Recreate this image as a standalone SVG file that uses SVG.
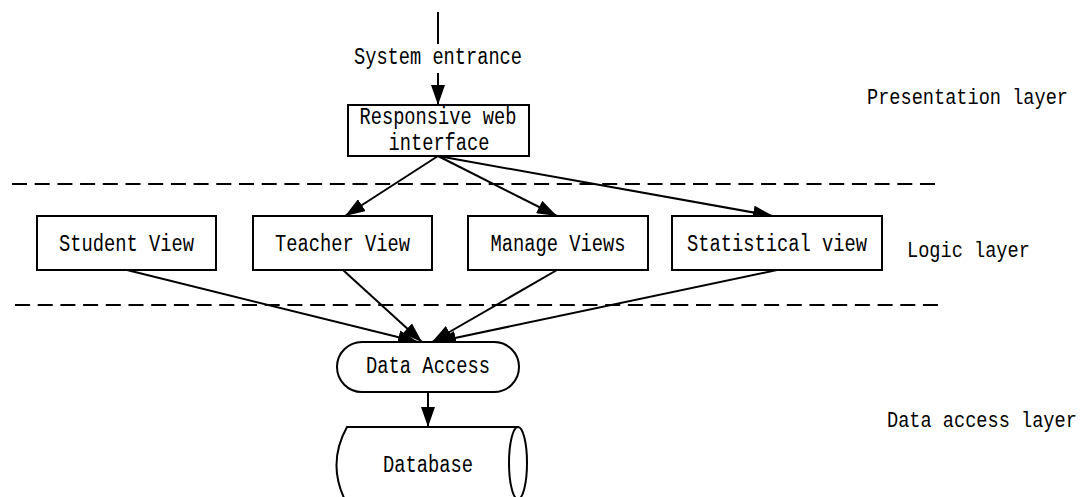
<svg xmlns="http://www.w3.org/2000/svg" width="1084" height="497" viewBox="0 0 1084 497">
<style>
.box{fill:#fff;stroke:#000;stroke-width:2}
.t{font-family:"Liberation Mono","DejaVu Sans Mono",monospace;font-size:23px;fill:#000}
.ln{stroke:#000;stroke-width:2;fill:none}
.dash{stroke:#000;stroke-width:2;stroke-dasharray:15 7.7;fill:none}
</style>
<defs>
<marker id="arr" markerUnits="userSpaceOnUse" markerWidth="21" markerHeight="14" refX="20" refY="7" orient="auto">
<path d="M0,0 L20,7 L0,14 z" fill="#000"/>
</marker>
</defs>
<rect width="1084" height="497" fill="#fff"/>
<g id="layers">
<line class="dash" x1="12" y1="184" x2="940" y2="184"/>
<line class="dash" x1="15" y1="305" x2="943" y2="305"/>
<text class="t" transform="translate(867,104) scale(0.81,1)" x="0" y="0">Presentation layer</text>
<text class="t" transform="translate(907,257) scale(0.81,1)" x="0" y="0">Logic layer</text>
<text class="t" transform="translate(887,427) scale(0.81,1)" x="0" y="0">Data access layer</text>
</g>
<g id="connectors">
<line class="ln" x1="438" y1="12" x2="438" y2="44"/>
<text class="t" x="438" y="64" text-anchor="middle" textLength="168" lengthAdjust="spacingAndGlyphs">System entrance</text>
<line class="ln" x1="438" y1="73" x2="438" y2="105" marker-end="url(#arr)"/>
<line class="ln" x1="438" y1="156" x2="345" y2="216" marker-end="url(#arr)"/>
<line class="ln" x1="438" y1="156" x2="557" y2="216" marker-end="url(#arr)"/>
<line class="ln" x1="438" y1="156" x2="773" y2="216" marker-end="url(#arr)"/>
<line class="ln" x1="127" y1="270" x2="418" y2="342" marker-end="url(#arr)"/>
<line class="ln" x1="343" y1="270" x2="422" y2="342" marker-end="url(#arr)"/>
<line class="ln" x1="557" y1="270" x2="432" y2="342" marker-end="url(#arr)"/>
<line class="ln" x1="777" y1="270" x2="436" y2="342" marker-end="url(#arr)"/>
<line class="ln" x1="428" y1="392" x2="428" y2="427" marker-end="url(#arr)"/>
</g>
<g id="web">
<rect class="box" x="348" y="105" width="181" height="51"/>
<text class="t" x="438" y="124" text-anchor="middle" textLength="157" lengthAdjust="spacingAndGlyphs">Responsive web</text>
<text class="t" x="439" y="150" text-anchor="middle" textLength="101" lengthAdjust="spacingAndGlyphs">interface</text>
</g>
<g id="student">
<rect class="box" x="37" y="216" width="179" height="54"/>
<text class="t" x="126.5" y="251" text-anchor="middle" textLength="135" lengthAdjust="spacingAndGlyphs">Student View</text>
</g>
<g id="teacher">
<rect class="box" x="253" y="216" width="179" height="54"/>
<text class="t" x="342.5" y="251" text-anchor="middle" textLength="135" lengthAdjust="spacingAndGlyphs">Teacher View</text>
</g>
<g id="manage">
<rect class="box" x="468" y="216" width="180" height="54"/>
<text class="t" x="558" y="251" text-anchor="middle" textLength="135" lengthAdjust="spacingAndGlyphs">Manage Views</text>
</g>
<g id="statistical">
<rect class="box" x="672" y="216" width="210" height="54"/>
<text class="t" x="777" y="251" text-anchor="middle" textLength="180" lengthAdjust="spacingAndGlyphs">Statistical view</text>
</g>
<g id="dataaccess">
<rect class="box" x="337" y="342" width="182" height="50" rx="25" ry="25"/>
<text class="t" x="428" y="373" text-anchor="middle" textLength="124" lengthAdjust="spacingAndGlyphs">Data Access</text>
</g>
<g id="database">
<path class="box" d="M347,427 L518,427 L518,500 L345,500 Q327,463 347,427 z"/>
<ellipse class="box" cx="518" cy="463" rx="9" ry="36"/>
<text class="t" x="428" y="472" text-anchor="middle" textLength="90" lengthAdjust="spacingAndGlyphs">Database</text>
</g>
</svg>
